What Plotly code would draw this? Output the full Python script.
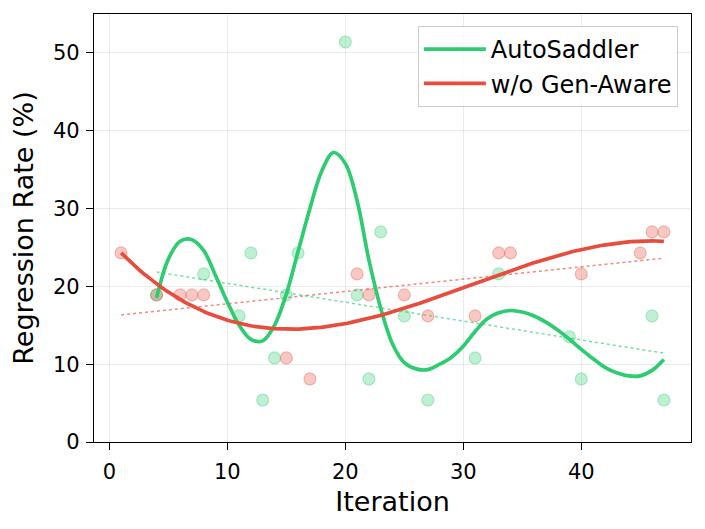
import numpy as np
import plotly.graph_objects as go

# ---- data ----
auto_x = [4, 8, 11, 12, 13, 14, 15, 16, 20, 21, 22, 23, 25, 27, 31, 33, 39, 40, 46, 47]
auto_y = [18.9, 21.6, 16.2, 24.3, 5.4, 10.8, 18.9, 24.3, 51.4, 18.9, 8.1, 27.0, 16.2, 5.4,
          10.8, 21.6, 13.5, 8.1, 16.2, 5.4]

nogen_x = [1, 4, 6, 7, 8, 15, 17, 21, 22, 25, 27, 31, 33, 34, 40, 45, 46, 47]
nogen_y = [24.3, 18.9, 18.9, 18.9, 18.9, 10.8, 8.1, 21.6, 18.9, 18.9, 16.2, 16.2, 24.3, 24.3,
           21.6, 24.3, 27.0, 27.0]

# smoothed curve for AutoSaddler (one value per iteration, 4..47)
auto_curve_x = list(range(4, 48))
auto_curve_y = [18.5, 23.5, 25.8, 26.0, 24.6, 21.4, 18.0, 15.0, 13.2, 13.0,
                15.0, 19.0, 24.5, 30.0, 34.8, 37.2, 35.8, 31.0, 23.4, 17.2,
                12.6, 10.2, 9.4, 9.3, 10.0, 10.9, 12.3, 14.2, 15.8, 16.6,
                16.9, 16.7, 16.2, 15.4, 14.4, 13.2, 11.9, 10.7, 9.6, 8.9,
                8.5, 8.5, 9.2, 10.6]

x_ticks = [0, 10, 20, 30, 40]
y_ticks = [0, 10, 20, 30, 40, 50]

GREEN = "46,204,113"
RED = "231,76,60"

fig = go.Figure()

# scatter points
for xs, ys, c in [(auto_x, auto_y, GREEN), (nogen_x, nogen_y, RED)]:
    fig.add_trace(go.Scatter(
        x=xs, y=ys, mode="markers", showlegend=False, hoverinfo="skip",
        marker=dict(size=12, color=f"rgba({c},0.3)",
                    line=dict(color=f"rgba({c},0.35)", width=1.2))))

# linear trend lines (dotted)
for xs, ys, c in [(auto_x, auto_y, GREEN), (nogen_x, nogen_y, RED)]:
    k, b = np.polyfit(xs, ys, 1)
    tx = np.array([min(xs), max(xs)], dtype=float)
    fig.add_trace(go.Scatter(
        x=tx, y=k * tx + b, mode="lines", showlegend=False, hoverinfo="skip",
        line=dict(color=f"rgba({c},0.65)", width=1.5, dash="dot")))

# smooth curves
fig.add_trace(go.Scatter(
    x=auto_curve_x, y=auto_curve_y, mode="lines", name="AutoSaddler",
    line=dict(color=f"rgb({GREEN})", width=3.7, shape="spline", smoothing=1.0)))

coef = np.polyfit(nogen_x, nogen_y, 3)
rx = np.linspace(min(nogen_x), max(nogen_x), 200)
fig.add_trace(go.Scatter(
    x=rx, y=np.polyval(coef, rx), mode="lines", name="w/o Gen-Aware",
    line=dict(color=f"rgb({RED})", width=3.7)))

axis_common = dict(
    showline=True, mirror=True, linecolor="black", linewidth=1.3,
    ticks="outside", ticklen=7, tickwidth=1.3, tickcolor="black",
    showgrid=True, gridcolor="rgba(0,0,0,0.08)", gridwidth=1,
    zeroline=False, tickfont=dict(size=21, color="black"), automargin=False,
)

fig.update_layout(
    width=697, height=521,
    margin=dict(l=86, r=14, t=6, b=87),
    paper_bgcolor="white", plot_bgcolor="white",
    font=dict(family="DejaVu Sans", color="black"),
    xaxis=dict(range=[-1.3, 49.3], tickvals=x_ticks, ticklabelstandoff=4,
               title=dict(text="Iteration", font=dict(size=27), standoff=8), **axis_common),
    yaxis=dict(range=[0, 55], tickvals=y_ticks, ticklabelstandoff=2,
               title=dict(text="Regression Rate (%)", font=dict(size=27), standoff=12), **axis_common),
    legend=dict(x=0.978, y=0.972, xanchor="right", yanchor="top",
                bgcolor="rgba(255,255,255,0.8)", bordercolor="rgba(0,0,0,0.2)", borderwidth=1,
                font=dict(size=24), itemwidth=62, tracegroupgap=0),
    showlegend=True,
)

fig.write_html("out.html")
